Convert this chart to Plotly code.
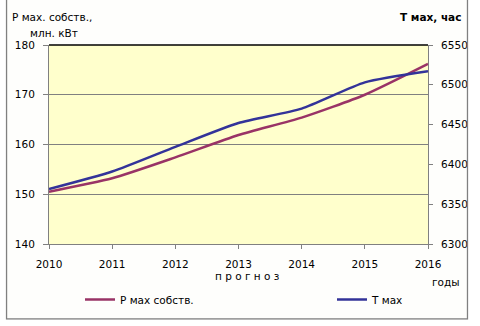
import plotly.graph_objects as go

# Forecast data, 2010-2016
years = [2010, 2011, 2012, 2013, 2014, 2015, 2016]
p_max = [150.5, 153.2, 157.4, 161.9, 165.4, 170.0, 176.2]        # млн. кВт
t_max = [6369, 6391, 6422, 6452, 6470, 6503, 6517]               # час

FONT = "DejaVu Sans"
GRID = "#808080"

fig = go.Figure()
fig.add_trace(go.Scatter(
    x=years, y=p_max, name="P мах собств.", mode="lines", legend="legend",
    line=dict(color="#993366", width=2.5, shape="spline", smoothing=0.6),
))
fig.add_trace(go.Scatter(
    x=years, y=t_max, name="T мах", mode="lines", yaxis="y2", legend="legend2",
    line=dict(color="#333399", width=2.5, shape="spline", smoothing=0.6),
))

W, H = 480, 326
L, R, T, B = 49, 48, 45, 82

legend_style = dict(
    orientation="h", xref="container", yref="container",
    y=1 - 285 / H, xanchor="left", yanchor="top",
    bgcolor="rgba(0,0,0,0)", font=dict(family=FONT, size=10.5),
    itemwidth=30,
)

fig.update_layout(
    width=W, height=H,
    margin=dict(l=L, r=R, t=T, b=B),
    paper_bgcolor="#FEFEFC",
    plot_bgcolor="#FFFFCC",
    font=dict(family=FONT, size=10.5, color="black"),
    xaxis=dict(
        range=[2010, 2016], tickvals=years, ticktext=[str(y) for y in years],
        showgrid=False, zeroline=False,
        showline=True, linecolor=GRID, linewidth=1,
        ticks="outside", ticklen=4, tickcolor=GRID,
        ticklabelstandoff=6,
    ),
    yaxis=dict(
        range=[140, 180], dtick=10,
        showgrid=True, gridcolor=GRID, gridwidth=1, zeroline=False,
        showline=True, linecolor=GRID, linewidth=1,
        ticks="outside", ticklen=5, tickcolor=GRID,
        ticklabelstandoff=6,
    ),
    yaxis2=dict(
        range=[6300, 6550], dtick=50, overlaying="y", side="right",
        showgrid=False, zeroline=False,
        showline=True, linecolor=GRID, linewidth=1,
        ticks="outside", ticklen=4, tickcolor=GRID,
        ticklabelstandoff=6,
    ),
    showlegend=True,
    legend=dict(legend_style, x=80 / W),
    legend2=dict(legend_style, x=332 / W),
)

# outer chart frame and top edge of the plot area
PW, PH = W - L - R, H - T - B
fig.add_shape(type="rect", xref="paper", yref="paper",
              x0=(6 - L) / PW, x1=(472 - L) / PW,
              y0=1 - (319 - T) / PH, y1=1 + (T + 2) / PH,
              line=dict(color="#808080", width=1.5), layer="above")
fig.add_shape(type="line", xref="paper", yref="paper", x0=0, x1=1, y0=1, y1=1,
              line=dict(color="black", width=1.5))
# white strip outside the frame
for x0, x1, y0, y1 in [(-L, 5.2, -5, H + 5), (472.8, W + 5, -5, H + 5), (-5, W + 5, 319.8, H + 5)]:
    fig.add_shape(type="rect", xref="paper", yref="paper",
                  x0=(x0 - L) / PW, x1=(x1 - L) / PW,
                  y0=1 - (y1 - T) / PH, y1=1 - (y0 - T) / PH,
                  line=dict(width=0), fillcolor="white", layer="above")

def note(text, x, y, anchor="left", bold=False):
    fig.add_annotation(
        text=f"<b>{text}</b>" if bold else text,
        xref="paper", yref="paper",
        x=(x - L) / PW, y=1 - (y - T) / PH,
        xanchor=anchor, yanchor="middle", showarrow=False,
        font=dict(family=FONT, size=10.5, color="black"),
    )

note("P мах. собств.,", 10, 17)
note("млн. кВт", 28, 33)
note("T мах, час", 467, 17, anchor="right", bold=True)
note("п р о г н о з", 249, 276, anchor="center")
note("годы", 450, 282, anchor="center")

fig.write_html("out.html")
